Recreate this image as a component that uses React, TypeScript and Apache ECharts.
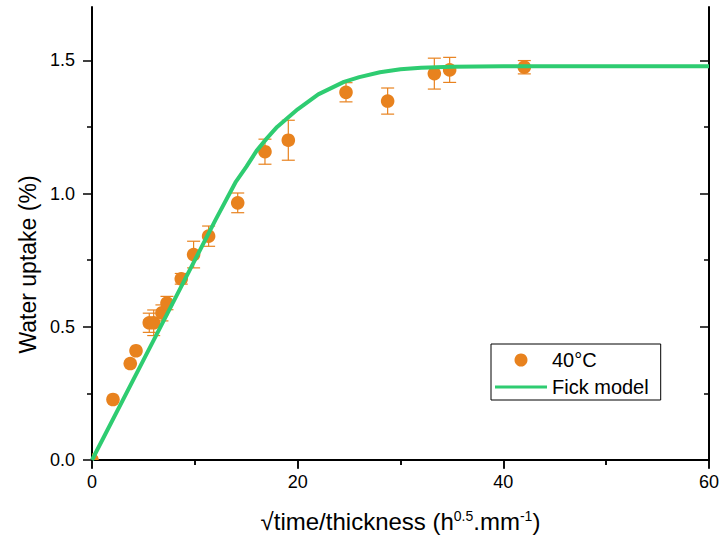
import React, { useEffect, useRef } from 'react';
import * as echarts from 'echarts';

// Measured data (40°C) with error bars (half-width)
const xValues = [0, 2.04, 3.72, 4.28, 5.57, 6.0, 6.8, 7.29, 8.68, 9.88, 11.34, 14.17, 16.82, 19.09, 24.7, 28.75, 33.29, 34.78, 42.04];
const yValues = [0, 0.227, 0.362, 0.41, 0.515, 0.515, 0.552, 0.589, 0.68, 0.771, 0.84, 0.965, 1.157, 1.2, 1.38, 1.347, 1.45, 1.464, 1.474];
const errValues = [0, 0, 0, 0, 0.036, 0.048, 0.03, 0.025, 0.02, 0.05, 0.038, 0.037, 0.047, 0.075, 0.036, 0.049, 0.058, 0.047, 0.025];

// Fick model curve
const modelX = [0, 5, 10, 12, 14, 15, 16, 17, 18, 20, 22, 24.5, 26, 28, 30, 32, 35, 40, 60];
const modelY = [0, 0.375, 0.75, 0.9, 1.045, 1.1, 1.16, 1.207, 1.25, 1.316, 1.372, 1.419, 1.437, 1.455, 1.466, 1.472, 1.476, 1.478, 1.478];

const yMajorTicks = [0, 0.5, 1.0, 1.5];
const yMinorTicks = [0.25, 0.75, 1.25];

const seriesNames = ['40°C', 'Fick model'];

const ORANGE = '#E8821E';
const GREEN = '#2ECC71';
const FONT = '"Liberation Sans", Arial, sans-serif';

export default function App() {
  const ref = useRef<HTMLDivElement>(null);

  useEffect(() => {
    if (!ref.current) return;
    const chart = echarts.init(ref.current, undefined, { renderer: 'svg' });
    const axisLine = { show: true, lineStyle: { color: '#000', width: 2 } };
    const tickStyle = { color: '#000', width: 1.5 };

    const option: any = {
      animation: false,
      backgroundColor: '#fff',
      textStyle: { fontFamily: FONT },
      grid: { left: 92, right: 14, top: 7, bottom: 84, containLabel: false, outerBoundsMode: 'none' },
      legend: {
        orient: 'vertical',
        left: 491,
        top: 344,
        padding: [6, 12, 3, 4],
        itemGap: 7,
        itemWidth: 52,
        itemHeight: 13,
        borderColor: '#000',
        borderWidth: 1,
        borderRadius: 0,
        textStyle: { fontSize: 20, color: '#000', fontFamily: FONT },
        data: [
          { name: seriesNames[0], icon: 'circle' },
          { name: seriesNames[1], icon: 'path://M0,0L52,0L52,3.2L0,3.2Z' },
        ],
      },
      xAxis: [
        {
          type: 'value', position: 'bottom', min: 0, max: 60, interval: 20,
          axisLine,
          axisTick: { show: true, inside: false, length: 8, lineStyle: tickStyle },
          minorTick: { show: true, splitNumber: 2, length: 5, lineStyle: tickStyle },
          axisLabel: { show: true, fontSize: 18, color: '#000', margin: 13, fontFamily: FONT },
          splitLine: { show: false },
          name: '√time/thickness (h{s|0.5}.mm{s|-1})',
          nameLocation: 'middle',
          nameGap: 49,
          nameTextStyle: {
            fontSize: 24, color: '#000', fontFamily: FONT,
            rich: { s: { fontSize: 14, color: '#000', fontFamily: FONT, verticalAlign: 'top' } },
          },
        },
        {
          type: 'value', position: 'top', min: 0, max: 60, interval: 20,
          axisLine,
          axisTick: { show: true, inside: true, length: 9, lineStyle: tickStyle },
          minorTick: { show: true, splitNumber: 2, length: 5, lineStyle: tickStyle },
          axisLabel: { show: false },
          splitLine: { show: false },
        },
      ],
      yAxis: [
        {
          type: 'value', position: 'left', min: 0, max: 1.7,
          axisLine,
          axisTick: { show: true, inside: false, length: 9, customValues: yMajorTicks, lineStyle: tickStyle },
          axisLabel: {
            show: true, customValues: yMajorTicks, fontSize: 18, color: '#000', margin: 17, fontFamily: FONT,
            formatter: (v: number) => v.toFixed(1),
          },
          splitLine: { show: false },
          name: 'Water uptake (%)',
          nameLocation: 'middle',
          nameGap: 52,
          nameTextStyle: { fontSize: 23, color: '#000', fontFamily: FONT, padding: [0, 62, 0, 0] },
        },
        {
          type: 'value', position: 'left', min: 0, max: 1.7,
          axisLine: { show: false },
          axisTick: { show: true, inside: false, length: 5, customValues: yMinorTicks, lineStyle: tickStyle },
          axisLabel: { show: false },
          splitLine: { show: false },
        },
        {
          type: 'value', position: 'right', min: 0, max: 1.7,
          axisLine,
          axisTick: { show: true, inside: true, length: 9, customValues: yMajorTicks, lineStyle: tickStyle },
          axisLabel: { show: false },
          splitLine: { show: false },
        },
        {
          type: 'value', position: 'right', min: 0, max: 1.7,
          axisLine: { show: false },
          axisTick: { show: true, inside: true, length: 5, customValues: yMinorTicks, lineStyle: tickStyle },
          axisLabel: { show: false },
          splitLine: { show: false },
        },
      ],
      series: [
        {
          name: seriesNames[0],
          type: 'custom',
          xAxisIndex: 0,
          yAxisIndex: 0,
          clip: true,
          z: 2,
          itemStyle: { color: ORANGE },
          encode: { x: 0, y: 1 },
          data: xValues.map((x, i) => [x, yValues[i], errValues[i]]),
          renderItem: (_params: any, api: any) => {
            const x = api.value(0);
            const y = api.value(1);
            const e = api.value(2);
            const c = api.coord([x, y]);
            const children: any[] = [];
            if (e > 0) {
              const top = api.coord([x, y + e]);
              const bot = api.coord([x, y - e]);
              const st = { stroke: ORANGE, lineWidth: 1.2 };
              children.push({ type: 'line', shape: { x1: c[0], y1: top[1], x2: c[0], y2: bot[1] }, style: st });
              children.push({ type: 'line', shape: { x1: c[0] - 6.5, y1: top[1], x2: c[0] + 6.5, y2: top[1] }, style: st });
              children.push({ type: 'line', shape: { x1: c[0] - 6.5, y1: bot[1], x2: c[0] + 6.5, y2: bot[1] }, style: st });
            }
            children.push({ type: 'circle', shape: { cx: c[0], cy: c[1], r: 6.8 }, style: { fill: ORANGE } });
            return { type: 'group', children };
          },
        },
        {
          name: seriesNames[1],
          type: 'line',
          xAxisIndex: 0,
          yAxisIndex: 0,
          z: 3,
          symbol: 'none',
          showSymbol: false,
          clip: true,
          lineStyle: { color: GREEN, width: 4 },
          itemStyle: { color: GREEN },
          data: modelX.map((x, i) => [x, modelY[i]]),
        },
      ],
    };
    chart.setOption(option);
    return () => chart.dispose();
  }, []);

  return (
    <div
      ref={ref}
      style={{ position: 'absolute', left: 0, top: 0, width: 723, height: 544, background: '#fff' }}
    />
  );
}
